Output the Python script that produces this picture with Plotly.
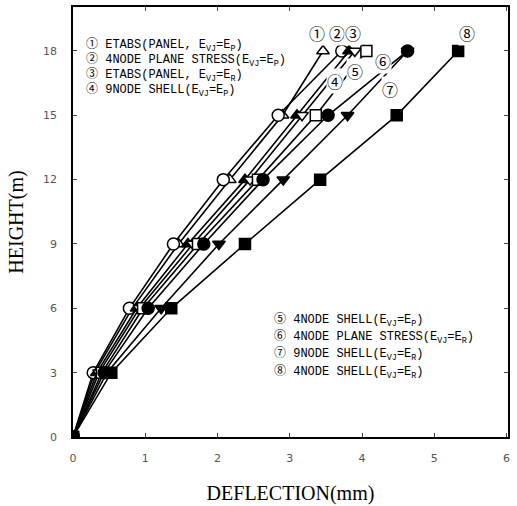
import plotly.graph_objects as go

heights = [0, 3, 6, 9, 12, 15, 18]
s1_etabs_panel_ep = [0, 0.30, 0.82, 1.46, 2.17, 2.90, 3.46]
s2_4node_plane_ep = [0, 0.28, 0.78, 1.39, 2.08, 2.84, 3.72]
s3_etabs_panel_er = [0, 0.33, 0.88, 1.59, 2.38, 3.10, 3.82]
s4_9node_shell_ep = [0, 0.36, 0.92, 1.66, 2.45, 3.17, 3.90]
s5_4node_shell_ep = [0, 0.40, 0.97, 1.73, 2.56, 3.36, 4.06]
s6_4node_plane_er = [0, 0.43, 1.04, 1.81, 2.63, 3.53, 4.63]
s7_9node_shell_er = [0, 0.47, 1.22, 2.02, 2.91, 3.80, 4.63]
s8_4node_shell_er = [0, 0.53, 1.36, 2.38, 3.42, 4.48, 5.33]

marks = ["①", "②", "③", "④", "⑤", "⑥", "⑦", "⑧"]
names = [
    "ETABS(PANEL, E<sub>VJ</sub>=E<sub>P</sub>)",
    "4NODE PLANE STRESS(E<sub>VJ</sub>=E<sub>P</sub>)",
    "ETABS(PANEL, E<sub>VJ</sub>=E<sub>R</sub>)",
    "9NODE SHELL(E<sub>VJ</sub>=E<sub>P</sub>)",
    "4NODE SHELL(E<sub>VJ</sub>=E<sub>P</sub>)",
    "4NODE PLANE STRESS(E<sub>VJ</sub>=E<sub>R</sub>)",
    "9NODE SHELL(E<sub>VJ</sub>=E<sub>R</sub>)",
    "4NODE SHELL(E<sub>VJ</sub>=E<sub>R</sub>)",
]
values = [s1_etabs_panel_ep, s2_4node_plane_ep, s3_etabs_panel_er, s4_9node_shell_ep,
          s5_4node_shell_ep, s6_4node_plane_er, s7_9node_shell_er, s8_4node_shell_er]
symbols = ["triangle-up", "circle", "triangle-up", "triangle-down",
           "square", "circle", "triangle-down", "square"]
filled = [False, False, True, False, False, True, True, True]

x_ticks = [0, 1, 2, 3, 4, 5, 6]
y_ticks = [0, 3, 6, 9, 12, 15, 18]

fig = go.Figure()
draw_order = [0, 1, 2, 3, 4, 6, 5, 7]
for i in draw_order:
    sym = symbols[i]
    fig.add_trace(go.Scatter(
        x=values[i], y=heights, mode="lines+markers", name=marks[i] + " " + names[i],
        line=dict(color="black", width=1.6),
        marker=dict(symbol=sym, size=12 if sym == "circle" else 11,
                    color="black" if filled[i] else "white",
                    line=dict(color="black", width=1.5)),
        showlegend=False,
    ))

mono = "Liberation Mono, Noto Sans CJK JP, monospace"

annotations = []
for k, i in enumerate([0, 1, 2, 3]):
    annotations.append(dict(xref="paper", yref="paper", x=0.025, y=0.91 - k * 0.035,
                            text=marks[i] + " " + names[i], showarrow=False,
                            xanchor="left", yanchor="middle",
                            font=dict(family=mono, size=12, color="black")))
for k, i in enumerate([4, 5, 6, 7]):
    annotations.append(dict(xref="paper", yref="paper", x=0.457, y=0.271 - k * 0.040,
                            text=marks[i] + " " + names[i], showarrow=False,
                            xanchor="left", yanchor="middle",
                            font=dict(family=mono, size=12, color="black")))

# point labels near line ends
label_pos = [(3.37, 18.84), (3.65, 18.84), (3.88, 18.84), (3.62, 16.62),
             (3.90, 17.08), (4.29, 17.54), (4.38, 16.24), (5.45, 18.84)]
for t, (x, y) in zip(marks, label_pos):
    annotations.append(dict(x=x, y=y, text=t, showarrow=False,
                            font=dict(family="Noto Sans CJK JP", size=16, color="black"),
                            bgcolor="white", borderpad=0))

fig.update_layout(
    width=517, height=506,
    margin=dict(l=73, r=9, t=5, b=65),
    plot_bgcolor="white", paper_bgcolor="white",
    annotations=annotations,
    xaxis=dict(range=[0, 6.02], tickvals=x_ticks, ticks="inside", ticklen=4, mirror="allticks",
               showline=True, linecolor="black", linewidth=1.5, showgrid=False, zeroline=False,
               ticklabelstandoff=10,
               tickfont=dict(family="DejaVu Sans", size=11, color="#555"),
               title=dict(text="DEFLECTION(mm)", font=dict(family="Liberation Serif", size=20, color="black"),
                          standoff=22)),
    yaxis=dict(range=[0, 20.05], tickvals=y_ticks, ticks="inside", ticklen=4, mirror="allticks",
               showline=True, linecolor="black", linewidth=1.5, showgrid=False, zeroline=False,
               ticklabelstandoff=12,
               tickfont=dict(family="DejaVu Sans", size=11, color="#555"),
               title=dict(text="HEIGHT(m)", font=dict(family="Liberation Serif", size=20, color="black"),
                          standoff=14)),
)

fig.write_html("out.html")
